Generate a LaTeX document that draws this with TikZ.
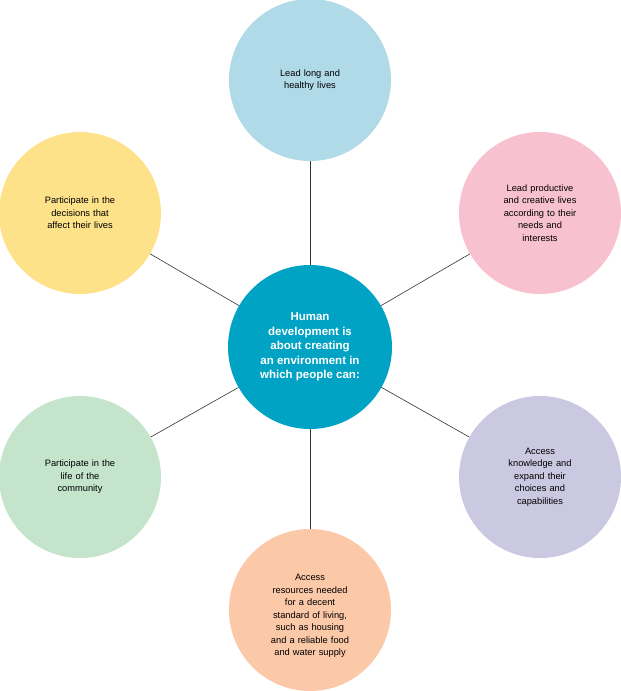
\documentclass[tikz,border=0pt]{standalone}
\usepackage{fontspec}
\setmainfont{Liberation Sans}
\begin{document}
\begin{tikzpicture}[x=1pt,y=-1pt,
 outer/.style={circle,minimum size=162pt,inner sep=0pt,align=center,font=\fontsize{9.3}{12.5}\selectfont,text width=100pt},
 link/.style={draw=black!80,line width=0.6pt}]
\useasboundingbox (0,0) rectangle (621,691);
\definecolor{cblue}{HTML}{B0DAE8}
\definecolor{cpink}{HTML}{F8C1CF}
\definecolor{clav}{HTML}{CBC8E2}
\definecolor{cpeach}{HTML}{FBC8A8}
\definecolor{cmint}{HTML}{C4E4CB}
\definecolor{cyel}{HTML}{FDE28A}
\definecolor{ccen}{HTML}{00A3C4}
\node[outer,fill=cblue] (t) at (310,80) {Lead long and\\healthy lives\\[30pt]};
\node[outer,fill=cpink] (ur) at (540,213) {Lead productive\\and creative lives\\according to their\\needs and\\interests};
\node[outer,fill=clav] (lr) at (540,477) {Access\\knowledge and\\expand their\\choices and\\capabilities};
\node[outer,fill=cpeach] (b) at (310,610) {\\[6pt]Access\\resources needed\\for a decent\\standard of living,\\such as housing\\and a reliable food\\and water supply};
\node[outer,fill=cmint] (ll) at (80,477) {Participate in the\\life of the\\community};
\node[outer,fill=cyel] (ul) at (80,213) {Participate in the\\decisions that\\affect their lives};
\node[circle,fill=ccen,minimum size=164pt,inner sep=0pt,align=center,text=white,font=\bfseries\fontsize{11.5}{14.5}\selectfont] (c) at (310,347) {Human\\development is\\about creating\\an environment in\\which people can:};
\foreach \n in {t,ur,lr,b,ll,ul} \draw[link] (c) -- (\n);
\end{tikzpicture}
\end{document}
